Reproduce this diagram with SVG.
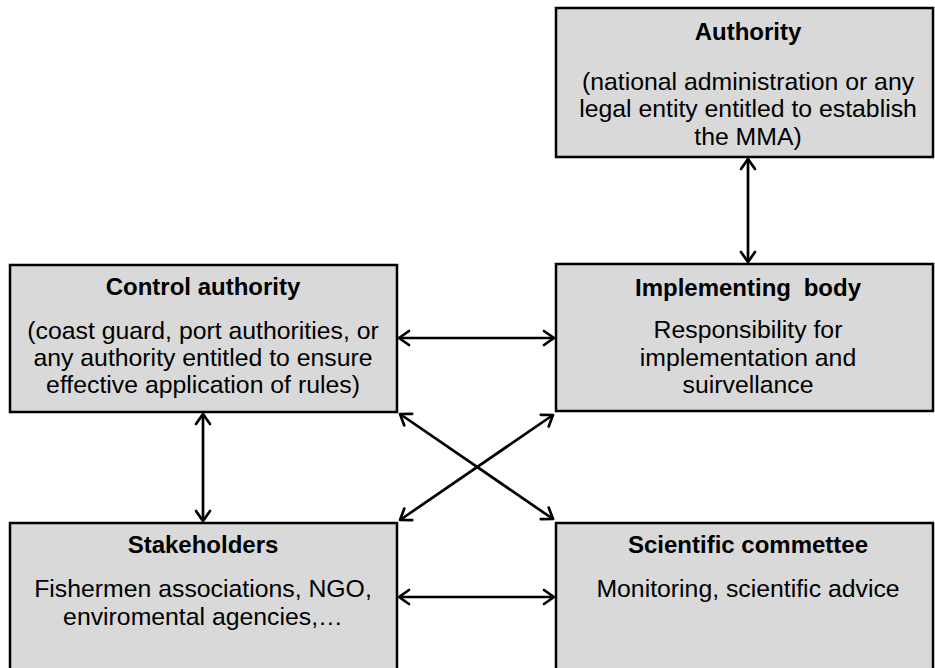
<svg xmlns="http://www.w3.org/2000/svg" width="935" height="668" viewBox="0 0 935 668">
<style>
.box{fill:#d9d9d9;stroke:#000;stroke-width:2.5}
.t{font-family:"Liberation Sans",Arial,sans-serif;font-size:24.8px;fill:#000;text-anchor:middle}
.b{font-weight:bold;font-size:24px}
.c{stroke:#000;stroke-width:2.7;fill:none;marker-start:url(#ah);marker-end:url(#ah)}
</style>
<defs>
<marker id="ah" markerUnits="userSpaceOnUse" viewBox="-14 -9 16 18" refX="0" refY="0" markerWidth="16" markerHeight="18" orient="auto-start-reverse">
<path d="M-10,-7 L0,0 L-10,7" fill="none" stroke="#000" stroke-width="2.7" stroke-linecap="round" stroke-linejoin="round"/>
</marker>
</defs>
<rect width="935" height="668" fill="#fff"/>
<g id="connectors">
<line class="c" x1="748" y1="159" x2="748" y2="262"/>
<line class="c" x1="399" y1="338" x2="554" y2="338"/>
<line class="c" x1="203" y1="414" x2="203" y2="521"/>
<line class="c" x1="399" y1="597" x2="554" y2="597"/>
<line class="c" x1="400" y1="414" x2="553" y2="519"/>
<line class="c" x1="553" y1="415" x2="400" y2="520"/>
</g>
<g id="authority">
<rect class="box" x="556" y="8" width="377" height="149"/>
<text class="t b" x="748" y="40">Authority</text>
<text class="t" x="748" y="90">(national administration or any</text>
<text class="t" x="748" y="117">legal entity entitled to establish</text>
<text class="t" x="748" y="145">the MMA)</text>
</g>
<g id="control-authority">
<rect class="box" x="10" y="265" width="387" height="147"/>
<text class="t b" x="203" y="295">Control authority</text>
<text class="t" x="203" y="339">(coast guard, port authorities, or</text>
<text class="t" x="203" y="366">any authority entitled to ensure</text>
<text class="t" x="203" y="393">effective application of rules)</text>
</g>
<g id="implementing-body">
<rect class="box" x="556" y="264" width="377" height="147"/>
<text class="t b" x="748" y="296" word-spacing="6">Implementing body</text>
<text class="t" x="748" y="338">Responsibility for</text>
<text class="t" x="748" y="366">implementation and</text>
<text class="t" x="748" y="393">suirvellance</text>
</g>
<g id="stakeholders">
<rect class="box" x="10" y="523" width="387" height="160"/>
<text class="t b" x="203" y="553">Stakeholders</text>
<text class="t" x="203" y="597">Fishermen associations, NGO,</text>
<text class="t" x="203" y="625">enviromental agencies,…</text>
</g>
<g id="scientific-commettee">
<rect class="box" x="556" y="523" width="377" height="160"/>
<text class="t b" x="748" y="553">Scientific commettee</text>
<text class="t" x="748" y="597">Monitoring, scientific advice</text>
</g>
</svg>
